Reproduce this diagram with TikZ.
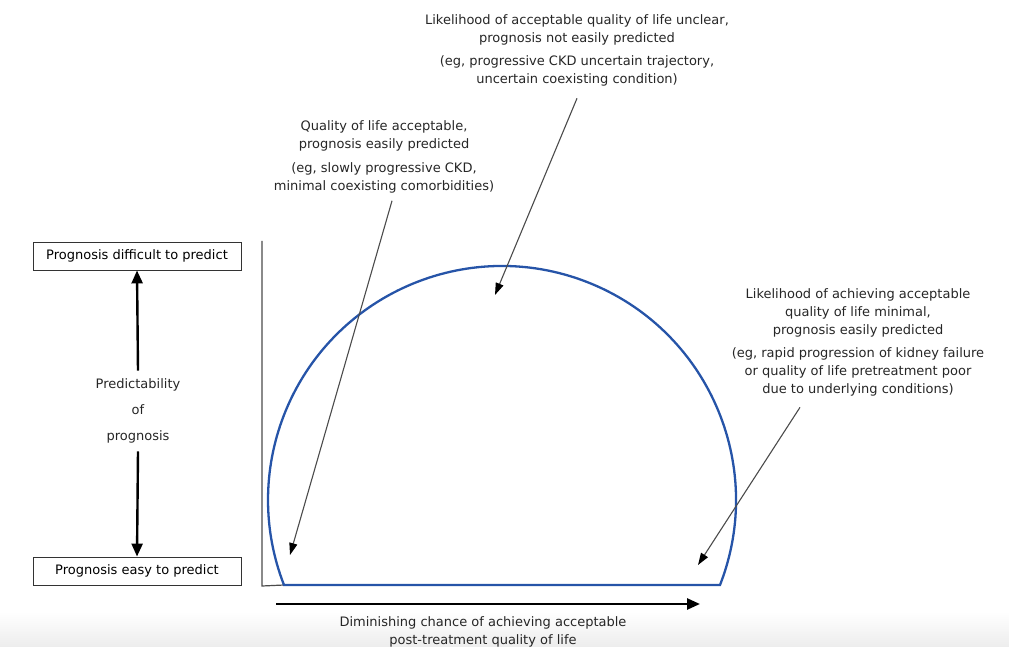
\documentclass[tikz,border=0pt]{standalone}
\usepackage{fontspec}
\setmainfont{DejaVu Sans}
\usetikzlibrary{arrows.meta}
\definecolor{archblue}{RGB}{38,84,168}
\definecolor{notegray}{RGB}{75,75,75}

\begin{document}
\begin{tikzpicture}[x=1pt,y=1pt,font=\fontsize{13}{18}\selectfont,
  box/.style={draw=black!80,line width=0.9pt,minimum width=208pt,minimum height=28pt,inner sep=0pt},
  txt/.style={align=center,text=black!85},
  note/.style={draw=notegray,line width=1.1pt,-{Triangle[length=12pt,width=8pt,color=black]}},
  bigarrow/.style={line width=2.4pt,-{Triangle[length=13pt,width=11pt]}}]
  \useasboundingbox (0,0) rectangle (1009,646);
  \shade[top color=white,bottom color=black!7] (0,0) rectangle (1009,34);

  % left scale
  \node[box] (hard) at (137,390) {Prognosis difficult to predict};
  \node[box] (easy) at (137,75) {Prognosis easy to predict};
  \node[txt,font=\fontsize{13}{26}\selectfont,inner sep=8pt] (predict) at (138,235) {Predictability\\of\\prognosis};
  \draw[bigarrow] (predict.north) -- (hard.south);
  \draw[bigarrow] (predict.south) -- (easy.north);

  % axes and the arch
  \coordinate (ytop) at (262,405);
  \coordinate (origin) at (262,60);
  \coordinate (baseL) at (284,61);
  \coordinate (baseR) at (720,61);
  \draw[notegray,line width=1.2pt] (ytop) -- (origin) -- (baseL);
  \draw[archblue,line width=2.3pt] (baseL) -- (baseR) arc[start angle=-21.3,end angle=201.3,radius=234] -- cycle;

  \coordinate (xstart) at (276,42);
  \coordinate (xend) at (700,42);
  \draw[bigarrow,line width=2.6pt] (xstart) -- (xend);
  \node[txt] (chance) at (483,14) {Diminishing chance of achieving acceptable\\post-treatment quality of life};

  % annotations
  \node[txt] (unclear) at (577,596) {Likelihood of acceptable quality of life unclear,\\prognosis not easily predicted\\[5pt](eg, progressive CKD uncertain trajectory,\\uncertain coexisting condition)};
  \node[txt] (qolok) at (384,489) {Quality of life acceptable,\\prognosis easily predicted\\[6pt](eg, slowly progressive CKD,\\minimal coexisting comorbidities)};
  \node[txt] (minimal) at (858,304) {Likelihood of achieving acceptable\\quality of life minimal,\\prognosis easily predicted\\[5pt](eg, rapid progression of kidney failure\\or quality of life pretreatment poor\\due to underlying conditions)};

  \coordinate (tipok) at (290,91);
  \coordinate (tipmid) at (495,351);
  \coordinate (tipbad) at (698,81);
  \draw[note] ([xshift=8pt,yshift=-4pt]qolok.south) -- (tipok);
  \draw[note] ([xshift=0pt,yshift=-9pt]unclear.south) -- (tipmid);
  \draw[note] ([xshift=-58pt,yshift=-8pt]minimal.south) -- (tipbad);
\end{tikzpicture}
\end{document}
